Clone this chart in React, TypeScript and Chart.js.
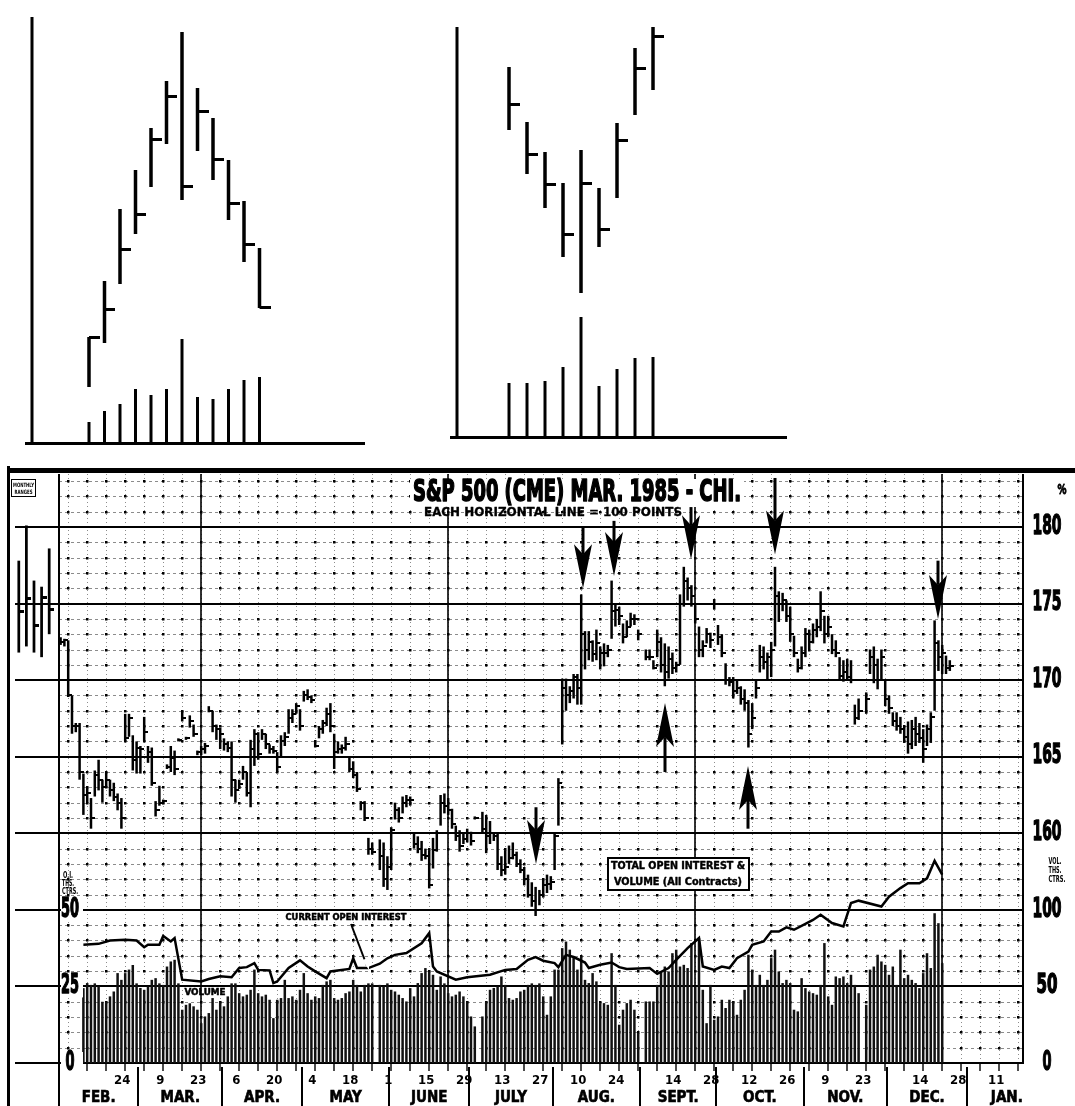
import React, { useEffect, useRef } from 'react';
import { Chart, registerables } from 'chart.js';

Chart.register(...registerables);

const COND = '"Liberation Sans Narrow", "DejaVu Sans Condensed", "Arial Narrow", sans-serif';

// ---------------- Top-left schematic (topping pattern) ----------------
const topLeftHigh = [106, 162, 234, 273, 315, 362, 411, 355, 325, 283, 242, 195];
const topLeftLow = [56, 100, 159, 209, 256, 299, 243, 292, 263, 223, 181, 135];
const topLeftClose = [106, 134, 194, 229, 304, 347, 257, 332, 284, 240, 199, 136];
const topLeftVolume = [21, 32, 39, 54, 48, 54, 104, 46, 44, 54, 63, 66];

// ---------------- Top-right schematic (bottoming pattern) ----------------
const topRightHigh = [370, 315, 285, 254, 287, 249, 314, 389, 423];
const topRightLow = [307, 263, 229, 180, 144, 190, 239, 322, 347];
const topRightClose = [333, 283, 253, 203, 254, 208, 297, 369, 401];
const topRightVolume = [54, 54, 56, 70, 120, 51, 68, 79, 80];

// ---------------- Main chart: S&P 500 (CME) Mar. 1985, daily from Feb 1 1984 (trading-day index) ----------------
const dailyHigh = [
  172.8, 172.7, 172.6, 169.0, 167.2, 167.2, 163.9, 163.0, 162.3, 164.1,
  164.8, 163.5, 164.0, 163.5, 163.3, 162.6, 162.3, 167.8, 167.8, 166.4,
  166.0, 165.7, 167.6, 165.7, 165.6, 162.1, 163.1, 162.2, 164.5, 165.7,
  165.4, 166.2, 168.0, 166.3, 167.7, 167.1, 165.4, 165.7, 165.9, 168.3,
  168.0, 167.1, 166.9, 166.2, 166.0, 166.0, 163.5, 163.5, 164.4, 164.0,
  166.1, 166.8, 166.6, 166.8, 166.5, 165.8, 165.7, 165.3, 166.4, 166.6,
  168.1, 168.1, 168.5, 168.1, 169.3, 169.4, 169.0, 166.0, 167.0, 167.4,
  168.2, 168.5, 166.5, 166.0, 165.8, 166.3, 165.0, 164.7, 164.0, 162.1,
  162.1, 159.7, 159.4, null, 159.6, 159.4, 158.5, 160.4, 162.0, 161.7,
  162.4, 162.5, 162.4, 160.0, 159.8, 159.5, 159.0, 158.9, 159.7, 160.2,
  162.5, 162.6, 162.3, 161.6, 160.5, 160.2, 160.0, 160.3, 160.1, 161.1,
  null, 161.4, 161.2, 160.8, 160.0, 160.0, 158.5, 158.9, 159.2, 159.4,
  158.8, 158.3, 157.8, 157.3, 156.8, 156.5, 156.3, 157.0, 157.3, 157.2,
  160.0, 163.6, 170.1, 170.1, 169.6, 170.4, 170.4, 175.6, 173.2, 173.2,
  172.6, 173.3, 172.2, 172.4, 172.3, 176.5, 175.0, 174.8, 173.7, 173.9,
  174.4, 174.3, 173.3, null, 172.0, 172.0, 171.3, 173.3, 172.8, 172.4,
  172.2, 171.8, 171.2, 175.6, 177.4, 176.7, 176.2, 174.9, 173.5, 172.6,
  173.4, 173.1, 175.3, 173.6, 173.0, 171.1, 170.2, 170.2, 170.0, 169.6,
  169.4, 168.7, 168.5, 170.0, 172.3, 172.2, 171.8, 172.5, 177.4, 175.8,
  175.7, 175.2, 174.8, 172.9, 171.4, 172.2, 173.4, 173.3, 173.7, 174.0,
  175.8, 174.2, 174.2, 173.0, 172.6, 171.5, 171.3, 171.4, 171.3, 168.4,
  168.8, null, 169.2, 172.0, 172.2, 171.4, 172.0, 170.0, 169.0, 167.9,
  167.9, 167.6, 167.0, 167.3, 167.4, 167.6, 167.2, 166.8, 167.1, 167.9,
  173.9, 172.6, 172.3, 171.6, 171.3,
];
const dailyLow = [
  172.3, 172.2, 168.9, 166.5, 166.6, 163.5, 161.2, 162.0, 160.3, 162.4,
  162.8, 162.0, 163.0, 162.4, 162.1, 161.5, 160.3, 166.0, 166.3, 164.1,
  163.9, 163.9, 166.0, 164.6, 163.1, 161.1, 161.8, 161.9, 164.2, 164.0,
  163.8, 166.0, 167.3, 166.1, 166.9, 166.3, 165.1, 165.1, 165.2, 167.9,
  166.6, 166.1, 165.5, 165.4, 165.3, 162.4, 162.0, 162.9, 163.5, 162.4,
  161.7, 164.4, 164.8, 166.1, 165.5, 165.2, 165.2, 164.0, 165.0, 165.7,
  166.5, 167.2, 167.8, 166.7, 168.6, 168.7, 168.5, 165.6, 166.2, 166.5,
  167.0, 166.6, 164.2, 165.2, 165.2, 165.4, 164.0, 163.6, 162.7, 161.5,
  160.8, 158.6, 158.6, null, 157.6, 156.5, 156.3, 157.6, 160.9, 160.7,
  161.3, 161.7, 161.8, 159.0, 158.7, 158.2, 158.3, 156.4, 157.7, 158.8,
  160.5, 161.3, 161.2, 160.3, 159.5, 158.8, 159.3, 159.4, 159.2, 160.9,
  null, 160.0, 158.7, 159.3, 159.5, 157.6, 157.2, 157.3, 158.0, 158.3,
  157.8, 157.4, 156.6, 155.8, 155.2, 154.6, 155.3, 155.8, 156.1, 156.3,
  157.6, 160.5, 165.8, 168.0, 168.5, 168.8, 168.4, 168.4, 170.7, 171.3,
  171.2, 171.3, 170.7, 170.9, 171.5, 172.7, 173.5, 173.6, 172.4, 172.8,
  173.5, 173.6, 172.6, null, 171.3, 171.3, 170.7, 171.5, 170.5, 169.6,
  170.1, 170.4, 170.5, 171.0, 174.8, 175.2, 174.8, 173.7, 171.5, 171.5,
  172.4, 172.1, 174.6, 172.3, 171.5, 169.7, 169.6, 168.8, 169.1, 168.4,
  168.0, 165.6, 166.8, 168.8, 170.5, 170.7, 170.0, 170.2, 172.2, 173.8,
  174.5, 173.8, 172.5, 171.5, 170.5, 170.7, 171.5, 172.0, 172.4, 172.8,
  173.2, 172.4, 172.8, 171.7, 171.5, 170.0, 169.9, 170.0, 169.8, 167.1,
  167.4, null, 167.8, 170.4, 169.8, 169.4, 170.0, 168.3, 167.8, 167.0,
  166.7, 166.5, 165.9, 165.2, 165.5, 165.7, 165.9, 164.6, 165.7, 165.9,
  168.0, 170.6, 170.4, 170.4, 170.6,
];
const dailyClose = [
  172.5, 172.6, 169.0, 167.0, 167.0, 164.0, 162.5, 162.6, 161.0, 163.8,
  163.5, 163.0, 163.5, 162.8, 162.4, 162.0, 161.0, 166.2, 167.5, 164.8,
  165.6, 165.5, 166.6, 165.3, 163.3, 161.5, 162.0, 162.1, 164.3, 164.9,
  164.2, 166.1, 167.5, 166.2, 167.3, 166.5, 165.3, 165.5, 165.7, 168.0,
  167.0, 166.8, 166.5, 165.8, 165.6, 163.5, 162.8, 163.2, 164.0, 162.6,
  165.5, 166.5, 165.2, 166.5, 165.8, 165.5, 165.4, 164.3, 166.0, 166.3,
  167.5, 167.8, 168.3, 167.0, 169.0, 168.9, 168.7, 165.7, 166.8, 167.2,
  167.8, 167.0, 165.3, 165.5, 165.6, 165.8, 164.2, 163.8, 162.9, 162.0,
  161.0, 159.0, 158.8, null, 158.5, 157.0, 157.8, 160.2, 161.5, 161.0,
  162.0, 162.2, 162.2, 159.3, 159.0, 158.6, 158.5, 156.6, 158.9, 160.0,
  162.0, 161.8, 161.5, 160.6, 159.8, 159.2, 159.6, 160.0, 159.5, 161.0,
  null, 160.3, 159.8, 160.0, 159.8, 158.0, 157.6, 157.8, 158.4, 158.6,
  158.0, 157.6, 157.0, 156.0, 155.6, 155.0, 156.0, 156.6, 156.7, 156.8,
  159.8, 163.3, 169.5, 169.0, 169.3, 170.2, 169.5, 173.0, 172.0, 172.5,
  171.7, 172.4, 171.8, 171.8, 172.0, 174.5, 174.6, 174.2, 172.8, 173.5,
  174.0, 174.0, 173.0, null, 171.5, 171.5, 170.8, 172.5, 171.0, 170.5,
  171.4, 170.8, 171.0, 175.0, 176.5, 176.0, 175.5, 174.0, 172.0, 172.2,
  173.0, 172.6, 175.0, 172.8, 171.8, 170.0, 169.9, 169.3, 169.5, 168.8,
  168.5, 166.5, 167.5, 169.5, 171.5, 171.2, 171.5, 172.0, 175.5, 175.0,
  175.2, 174.2, 173.0, 171.8, 170.8, 171.8, 173.0, 172.5, 173.3, 173.5,
  174.5, 173.0, 173.5, 172.0, 171.8, 170.3, 170.5, 170.2, 170.0, 167.5,
  168.0, null, 168.8, 171.5, 171.0, 170.0, 171.5, 168.8, 168.2, 167.3,
  167.0, 166.8, 166.3, 165.8, 166.8, 166.5, 166.2, 165.5, 166.8, 167.6,
  172.4, 171.5, 171.8, 170.8, 170.9,
];
// volume, thousands of contracts (all contracts)
const dailyVolume = [
  null, null, null, null, null, null, 48.9, 52.2, 51, 52,
  50, 40, 40, 43.5, 46.7, 58.7, 54.3, 58.7, 61, 64,
  52, 49, 47.8, 50, 54.3, 55.4, 52, 51, 63, 66.3,
  67.4, 52, 34.8, 38, 39, 37, 34.8, 26, 30.4, 32.6,
  42.4, 34.8, 40, 37, 43.5, 52, 52, 45.6, 43.5, 44.6,
  47.8, 61, 45.6, 43.5, 44.6, 41.3, 29.3, 41.3, 42.4, 54.3,
  42.4, 43.5, 41.3, 47.8, 58.7, 45.6, 41.3, 43.5, 42.4, 51,
  53.3, 54.3, 42.4, 41.3, 42.4, 45.6, 46.7, 54.3, 51, 46.7,
  51, 52, 52, null, 51, 50, 52, 47.8, 46.7, 44.6,
  42.4, 40.2, 48.9, 43.5, 52.2, 58.7, 62, 59.8, 57.6, 47.8,
  56.5, 52, 45.6, 43.5, 44.6, 46.7, 43.5, 40.2, 30.4, 23.9,
  null, 30.4, 40.2, 47.8, 49, 50, 56.5, 51, 42.4, 41.3,
  42.4, 46.7, 47.8, 51, 52, 51, 52, 43.5, 31.5, 43.5,
  61, 61, 75, 79.3, 74, 69.6, 61, 69.6, 54.3, 52.2,
  58.7, 53.3, 39.1, 39.1, 38, 71.7, 51, 25, 34.8, 39.1,
  41.3, 34.8, 19.6, null, 40.2, 40.2, 40.2, 51, 59.8, 63,
  59.8, 71.7, 74, 63, 64.1, 62, 78.3, 50, 81.5, 47.8,
  26, 51, 28.3, 30.4, 41.3, 35.9, 41.3, 40.2, 31.5, 41.3,
  47.8, 70.7, 61, 51, 57.6, 51, 54.3, 68.5, 74, 59.8,
  52.2, 54.3, 52.2, 34.8, 33.7, 55.4, 48.9, 46.7, 45.6, 44.6,
  51, 78.3, 43.5, 38, 56.5, 55.4, 56.5, 52.2, 57.6, 51,
  45.6, null, 38, 61, 63, 70.7, 66.3, 64.1, 57.6, 63,
  51, 74, 55.4, 57.6, 54.3, 52.2, 48.9, 58.7, 71.7, 62,
  97.8, 91.3, 65.2, null, null,
];
// open interest, thousands of contracts (read at turning points)
const oiDays = [6, 10, 13, 17, 20, 22, 23, 26, 27, 29, 30, 32, 37, 39, 42, 45, 47, 49, 51, 52, 55, 56, 57, 60, 63, 65, 67, 70, 71, 76, 77, 78, 81, 84, 86, 88, 91, 95, 97, 98, 99, 104, 107, 113, 117, 120, 123, 125, 127, 130, 131, 133, 135, 138, 139, 142, 145, 147, 149, 155, 157, 160, 162, 165, 168, 169, 172, 174, 176, 178, 181, 182, 185, 187, 189, 191, 193, 196, 198, 200, 203, 206, 208, 210, 216, 218, 221, 223, 226, 228, 230, 232];
const oiValues = [38.6, 38.9, 40, 40.2, 40, 37.8, 38.6, 38.6, 41.5, 39.7, 40.8, 27.2, 26.6, 27.4, 28.3, 28, 31, 31.3, 32.6, 30.4, 30.2, 26.1, 26.6, 31, 33.5, 31.5, 29.9, 27.7, 29.9, 30.7, 34.2, 31, 31, 32.4, 34.2, 35.3, 35.9, 39.1, 42.4, 31.5, 29.9, 27.2, 28, 28.8, 30.4, 30.7, 33.7, 34.6, 33.4, 32.6, 31.3, 35.3, 34.6, 32.8, 31, 32.1, 32.8, 31.3, 30.7, 31, 29.1, 31, 33.7, 37.5, 40.8, 31.5, 30.4, 31.5, 31, 34.2, 36.4, 38.6, 39.7, 42.9, 42.9, 44.3, 43.5, 45.4, 46.7, 48.4, 45.7, 44.6, 52.2, 53, 51.1, 54.3, 57.1, 58.7, 58.7, 60.3, 66, 61.5];

// monthly ranges (left panel)
const monthlyHigh = [177.8, 180.1, 176.5, 176.1, 178.6];
const monthlyLow = [171.8, 172.2, 171.8, 171.5, 173.0];
const monthlyClose = [174.5, 175.3, 173.6, 175.4, 174.6];
const MONTHLY_FIRST_SLOT = -11;

// calendar
const weekLabels = ['', '', '', '24', '', '9', '', '23', '', '6', '', '20', '', '4', '', '18', '', '1', '', '15', '', '29', '', '13', '', '27', '', '10', '', '24', '', '', '14', '', '28', '', '12', '', '26', '', '9', '', '23', '', '', '14', '', '28', '', '11', ''];
const monthNames = ['FEB.', 'MAR.', 'APR.', 'MAY', 'JUNE', 'JULY', 'AUG.', 'SEPT.', 'OCT.', 'NOV.', 'DEC.', 'JAN.'];
const monthStartDays = [0, 21, 43, 64, 87, 108, 130, 153, 173, 196, 218, 239, 260];
const priceTicks = [160, 165, 170, 175, 180];
const volumeTicks = [0, 50, 100];
const oiTicks = [0, 25, 50];

// signal arrows (day, tip price, tail price)
const arrowDays = [125, 137.5, 145.5, 166, 188, 231, 159, 181];
const arrowTips = [158.0, 176.0, 176.8, 177.9, 178.2, 174.0, 168.5, 164.4];
const arrowTails = [161.7, 180.0, 180.4, 181.3, 183.2, 177.8, 164.0, 160.3];

function tickImage(len: number, thick: number) {
  const c = document.createElement('canvas');
  c.width = len * 2;
  c.height = thick;
  const g = c.getContext('2d') as CanvasRenderingContext2D;
  g.fillStyle = '#000';
  g.fillRect(len, 0, len, thick);
  return c;
}

function fitText(ctx: any, text: string, cx: number, cy: number, width: number, font: string, heavy = 0) {
  ctx.save();
  ctx.font = font;
  const w = ctx.measureText(text).width || 1;
  ctx.translate(cx, cy);
  ctx.scale(width / w, 1);
  ctx.textAlign = 'center';
  ctx.textBaseline = 'middle';
  ctx.fillStyle = '#000';
  ctx.fillText(text, 0, 0);
  if (heavy > 0) {
    ctx.strokeStyle = '#000';
    ctx.lineWidth = heavy;
    ctx.lineJoin = 'round';
    ctx.strokeText(text, 0, 0);
  }
  ctx.restore();
}

function makeSchematic(canvas: HTMLCanvasElement, high: number[], low: number[], close: number[], volume: number[], xMin: number, xMax: number, yMax: number, pad: any) {
  const idx = high.map((_, i) => i);
  const axisPlugin = {
    id: 'schemAxes',
    afterDatasetsDraw(chart: any) {
      const { ctx, chartArea: ca } = chart;
      ctx.save();
      ctx.fillStyle = '#000';
      ctx.fillRect(ca.left - 1.5, ca.top, 3, ca.bottom - ca.top + 2);
      ctx.fillRect(ca.left - 7, ca.bottom - 1, ca.right - ca.left + 7, 3);
      ctx.restore();
    },
  };
  return new Chart(canvas, {
    type: 'bar',
    data: {
      datasets: [
        { type: 'scatter', data: idx.map((i) => ({ x: i, y: close[i] })), pointStyle: tickImage(11, 3), pointRadius: 4, order: 0 } as any,
        { type: 'bar', data: idx.map((i) => ({ x: i, y: [low[i], high[i]] })), backgroundColor: '#000', grouped: false, maxBarThickness: 3.5, order: 1 } as any,
        { type: 'bar', data: idx.map((i) => ({ x: i, y: [0, volume[i]] })), backgroundColor: '#000', grouped: false, maxBarThickness: 3, order: 2 } as any,
      ],
    },
    options: {
      animation: false,
      responsive: false,
      devicePixelRatio: 1,
      events: [],
      layout: { padding: pad },
      plugins: { legend: { display: false }, tooltip: { enabled: false } },
      scales: {
        x: { type: 'linear', min: xMin, max: xMax, display: false, offset: false },
        y: { type: 'linear', min: 0, max: yMax, display: false },
      },
    } as any,
    plugins: [axisPlugin],
  });
}

function makeMain(canvas: HTMLCanvasElement) {
  const bars: any[] = [];
  const ticks: any[] = [];
  const vols: any[] = [];
  for (let d = 0; d < dailyHigh.length; d++) {
    const h = dailyHigh[d];
    const l = dailyLow[d];
    const c = dailyClose[d];
    if (h != null && l != null) bars.push({ x: d, y: [l, h] });
    if (c != null) ticks.push({ x: d, y: c });
    const v = dailyVolume[d];
    if (v != null) vols.push({ x: d, y: v });
  }
  const oi = oiDays.map((d, i) => ({ x: d, y: oiValues[i] }));
  const mBars = monthlyHigh.map((h, i) => ({ x: MONTHLY_FIRST_SLOT + 2 * i, y: [monthlyLow[i], h] }));
  const mTicks = monthlyClose.map((c, i) => ({ x: MONTHLY_FIRST_SLOT + 2 * i, y: c }));

  const decor = {
    id: 'mainDecor',
    beforeDatasetsDraw(chart: any) {
      const { ctx, chartArea: ca, scales } = chart;
      const X = (d: number) => scales.x.getPixelForValue(d);
      const Y = (p: number) => scales.y.getPixelForValue(p);
      const x0 = Math.round(X(-0.5));
      ctx.save();
      // minor horizontal lines: 1 point each
      ctx.strokeStyle = 'rgba(0,0,0,0.45)';
      ctx.lineWidth = 1;
      ctx.setLineDash([3, 3]);
      for (let p = 146; p <= 183; p++) {
        if (p % 5 === 0) continue;
        const y = Math.round(Y(p)) + 0.5;
        ctx.beginPath();
        ctx.moveTo(x0, y);
        ctx.lineTo(ca.right, y);
        ctx.stroke();
      }
      // weekly verticals (Fridays)
      ctx.setLineDash([1, 3]);
      for (let k = 0; k <= 50; k++) {
        const x = Math.round(X(2 + 5 * k)) + 0.5;
        if (x >= ca.right) break;
        ctx.beginPath();
        ctx.moveTo(x, ca.top);
        ctx.lineTo(x, ca.bottom);
        ctx.stroke();
      }
      ctx.setLineDash([]);
      // lattice dots
      ctx.fillStyle = '#000';
      for (let k = 0; k <= 50; k++) {
        const x = Math.round(X(2 + 5 * k));
        if (x >= ca.right) break;
        for (let p = 146; p <= 183; p++) {
          if (p % 5 === 0) continue;
          ctx.fillRect(x - 1, Math.round(Y(p)) - 1, 2.5, 2.5);
        }
      }
      // major lines every 5 points
      for (let p = 145; p <= 180; p += 5) {
        ctx.fillRect(15, Math.round(Y(p)) - 1, ca.right - 15, 2);
      }
      // quarterly solid verticals
      for (let k = 0; k <= 50; k++) {
        if (k % 13 !== 7) continue;
        const x = Math.round(X(2 + 5 * k));
        ctx.fillRect(x - 0.8, ca.top, 1.6, ca.bottom - ca.top);
      }
      ctx.restore();
    },
    afterDatasetsDraw(chart: any) {
      const { ctx, chartArea: ca, scales, height: H } = chart;
      const X = (d: number) => scales.x.getPixelForValue(d);
      const Y = (p: number) => scales.y.getPixelForValue(p);
      ctx.save();
      ctx.fillStyle = '#000';
      // frame
      ctx.fillRect(8, 2, 1067, 5);
      ctx.fillRect(7, 0, 3, H);
      const xSep = Math.round(X(-0.5));
      ctx.fillRect(xSep - 1, ca.top, 2, H - ca.top);
      ctx.fillRect(ca.right - 1, ca.top, 2, ca.bottom - ca.top + 1);
      // bottom ticks and month separators
      for (let k = 1; k <= 50; k++) {
        const x = Math.round(X(2 + 5 * k));
        if (x > ca.right) break;
        ctx.fillRect(x - 0.7, ca.bottom, 1.4, 8);
      }
      for (let i = 1; i < monthStartDays.length - 1; i++) {
        const x = Math.round(X(monthStartDays[i] - 0.5));
        ctx.fillRect(x - 1, ca.bottom + 4, 2, H - ca.bottom - 4);
      }
      // date labels
      ctx.font = `bold 13px ${COND}`;
      ctx.textAlign = 'center';
      ctx.textBaseline = 'middle';
      for (let k = 0; k < weekLabels.length; k++) {
        if (!weekLabels[k]) continue;
        ctx.fillText(weekLabels[k], X(2 + 5 * k) - 3, ca.bottom + 18);
      }
      ctx.font = `bold 15px ${COND}`;
      ctx.lineWidth = 0.6;
      ctx.strokeStyle = '#000';
      for (let i = 0; i < monthNames.length; i++) {
        const c = (monthStartDays[i] + monthStartDays[i + 1]) / 2 - 0.5;
        ctx.fillText(monthNames[i], X(c), H - 8);
        ctx.strokeText(monthNames[i], X(c), H - 8);
      }
      // right-side labels
      const bigFont = `bold 26px ${COND}`;
      for (const p of priceTicks) fitText(ctx, String(p), 1047, Y(p), 29, bigFont, 1.4);
      for (const v of volumeTicks) {
        const s = String(v);
        fitText(ctx, s, 1047, scales.yVol.getPixelForValue(v), s.length === 3 ? 29 : s.length === 2 ? 21 : 9, bigFont, 1.4);
      }
      // left OI labels
      for (const o of oiTicks) {
        const y = scales.yOI.getPixelForValue(o);
        ctx.fillStyle = '#fff';
        ctx.fillRect(xSep + 2, y - 11, 22, 22);
        const s = String(o);
        fitText(ctx, s, 70, y, s.length === 2 ? 18 : 9, bigFont, 1.4);
      }
      ctx.fillStyle = '#000';
      // arrows
      for (let i = 0; i < arrowDays.length; i++) {
        const x = Math.round(X(arrowDays[i]));
        const yt = Y(arrowTips[i]);
        const ya = Y(arrowTails[i]);
        const dir = ya < yt ? 1 : -1;
        const headLen = 44;
        const notch = 10;
        const half = 9;
        const yNotch = yt - dir * (headLen - notch);
        ctx.fillRect(x - 1.5, Math.min(ya, yNotch), 3, Math.abs(yNotch - ya));
        ctx.beginPath();
        ctx.moveTo(x, yt);
        ctx.lineTo(x - half, yt - dir * headLen);
        ctx.lineTo(x, yNotch);
        ctx.lineTo(x + half, yt - dir * headLen);
        ctx.closePath();
        ctx.fill();
      }
      // titles
      ctx.fillStyle = '#fff';
      ctx.fillRect(410, 13, 334, 28);
      fitText(ctx, 'S&P 500 (CME) MAR. 1985 - CHI.', 577, 27, 328, `bold 30px ${COND}`, 1.6);
      fitText(ctx, 'EACH HORIZONTAL LINE = 100 POINTS', 553, 47, 258, `bold 12px ${COND}`, 0.3);
      fitText(ctx, '%', 1062, 24, 9, `bold 14px ${COND}`, 0.8);
      // monthly ranges box
      ctx.fillStyle = '#fff';
      ctx.fillRect(11, 13, 25, 18);
      ctx.strokeStyle = '#000';
      ctx.lineWidth = 1;
      ctx.strokeRect(11.5, 13.5, 24, 17);
      fitText(ctx, 'MONTHLY', 23.5, 19, 21, `bold 6px ${COND}`);
      fitText(ctx, 'RANGES', 23.5, 26, 18, `bold 6px ${COND}`);
      // axis captions
      fitText(ctx, 'O.I.', 68, 410, 10, `bold 8px ${COND}`);
      fitText(ctx, 'THS.', 68, 418, 12, `bold 8px ${COND}`);
      fitText(ctx, 'CTRS.', 70, 426, 16, `bold 8px ${COND}`);
      fitText(ctx, 'VOL.', 1055, 396, 13, `bold 8px ${COND}`);
      fitText(ctx, 'THS.', 1055, 405, 13, `bold 8px ${COND}`);
      fitText(ctx, 'CTRS.', 1057, 414, 17, `bold 8px ${COND}`);
      // annotations
      fitText(ctx, 'CURRENT OPEN INTEREST', 346, 452, 121, `bold 9px ${COND}`, 0.5);
      ctx.strokeStyle = '#000';
      ctx.lineWidth = 2;
      ctx.beginPath();
      ctx.moveTo(351, 458);
      ctx.lineTo(367, 500);
      ctx.stroke();
      ctx.beginPath();
      ctx.moveTo(369, 504);
      ctx.lineTo(362, 494);
      ctx.lineTo(369, 492);
      ctx.closePath();
      ctx.fill();
      fitText(ctx, 'VOLUME', 205, 527, 41, `bold 9px ${COND}`, 0.5);
      ctx.fillStyle = '#fff';
      ctx.fillRect(607, 391, 143, 34);
      ctx.lineWidth = 2;
      ctx.strokeRect(608, 392, 141, 32);
      fitText(ctx, 'TOTAL OPEN INTEREST &', 678, 400, 134, `bold 10px ${COND}`, 0.4);
      fitText(ctx, 'VOLUME (All Contracts)', 678, 416, 128, `bold 10px ${COND}`, 0.4);
      ctx.restore();
    },
  };

  return new Chart(canvas, {
    type: 'bar',
    data: {
      datasets: [
        { type: 'line', data: oi, yAxisID: 'yOI', borderColor: '#000', borderWidth: 2.5, pointRadius: 0, tension: 0, fill: false, order: 0 } as any,
        { type: 'scatter', data: ticks, yAxisID: 'y', pointStyle: tickImage(4, 2), pointRadius: 3, order: 1 } as any,
        { type: 'scatter', data: mTicks, yAxisID: 'y', pointStyle: tickImage(5, 3), pointRadius: 3, order: 1 } as any,
        { type: 'bar', data: bars, yAxisID: 'y', backgroundColor: '#000', grouped: false, maxBarThickness: 2.5, order: 2 } as any,
        { type: 'bar', data: mBars, yAxisID: 'y', backgroundColor: '#000', grouped: false, maxBarThickness: 3, order: 2 } as any,
        { type: 'bar', data: vols, yAxisID: 'yVol', backgroundColor: '#111', grouped: false, maxBarThickness: 2.5, order: 3 } as any,
      ],
    },
    options: {
      animation: false,
      responsive: false,
      devicePixelRatio: 1,
      events: [],
      layout: { padding: { left: 8, right: 52, top: 8, bottom: 43 } },
      plugins: { legend: { display: false }, tooltip: { enabled: false } },
      scales: {
        x: { type: 'linear', min: -13.84, max: 253.26, display: false, offset: false },
        y: { type: 'linear', min: 145, max: 183.46, display: false },
        yVol: { type: 'linear', min: 0, max: 384.6, display: false },
        yOI: { type: 'linear', min: 0, max: 192.3, display: false },
      },
    } as any,
    plugins: [decor],
  });
}

export default function App() {
  const tlRef = useRef<HTMLCanvasElement | null>(null);
  const trRef = useRef<HTMLCanvasElement | null>(null);
  const mainRef = useRef<HTMLCanvasElement | null>(null);

  useEffect(() => {
    const charts: Chart[] = [];
    if (tlRef.current) {
      charts.push(makeSchematic(tlRef.current, topLeftHigh, topLeftLow, topLeftClose, topLeftVolume, -3.677, 17.806, 426, { left: 32, right: 15, top: 17, bottom: 12 }));
    }
    if (trRef.current) {
      charts.push(makeSchematic(trRef.current, topRightHigh, topRightLow, topRightClose, topRightVolume, -2.889, 15.444, 410, { left: 17, right: 13, top: 27, bottom: 13 }));
    }
    if (mainRef.current) charts.push(makeMain(mainRef.current));
    return () => charts.forEach((c) => c.destroy());
  }, []);

  return (
    <div style={{ position: 'fixed', left: 0, top: 0, width: 1075, height: 1106, background: '#fff', overflow: 'hidden' }}>
      <canvas ref={tlRef} width={380} height={455} style={{ position: 'absolute', left: 0, top: 0, width: 380, height: 455 }} />
      <canvas ref={trRef} width={360} height={450} style={{ position: 'absolute', left: 440, top: 0, width: 360, height: 450 }} />
      <canvas ref={mainRef} width={1075} height={640} style={{ position: 'absolute', left: 0, top: 466, width: 1075, height: 640 }} />
    </div>
  );
}
